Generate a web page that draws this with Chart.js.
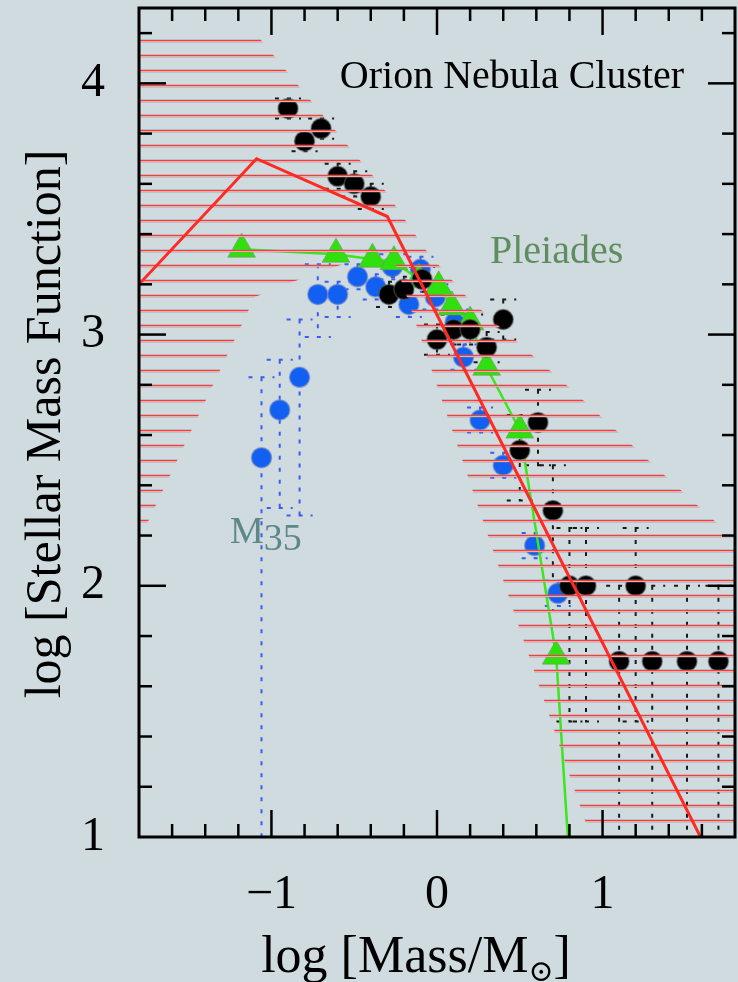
<!DOCTYPE html>
<html>
<head>
<meta charset="utf-8">
<title>Stellar Mass Function</title>
<script src="https://cdn.jsdelivr.net/npm/chart.js@4.4.1/dist/chart.umd.min.js"></script>
<style>
  html, body { margin: 0; padding: 0; background: #cfdbdf; }
  .graph-container { width: 738px; height: 982px; }
</style>
</head>
<body>
<div class="graph-container"><canvas id="myChart" width="738" height="982"></canvas></div>
<script>
// Orion Nebula Cluster (black dots) with error ranges
const massOnc = [-0.90, -0.80, -0.70, -0.60, -0.50, -0.40, -0.29, -0.20, -0.09, 0.00, 0.10, 0.20, 0.30, 0.40, 0.50, 0.61, 0.70, 0.80, 0.90, 1.20, 1.10, 1.30, 1.51, 1.70];
const smfOnc = [3.90, 3.77, 3.82, 3.63, 3.60, 3.55, 3.16, 3.18, 3.22, 2.98, 3.02, 3.02, 2.95, 3.06, 2.54, 2.65, 2.30, 2.00, 2.00, 2.00, 1.70, 1.70, 1.70, 1.70];
const oncErrUp = [0.04, 0.04, 0.04, 0.05, 0.05, 0.05, 0.05, 0.05, 0.05, 0.06, 0.06, 0.06, 0.06, 0.08, 0.14, 0.13, 0.18, 0.23, 0.23, 0.23, 0.30, 0.30, 0.30, 0.30];
const oncErrDown = [0.04, 0.04, 0.04, 0.05, 0.05, 0.05, 0.05, 0.05, 0.05, 0.06, 0.06, 0.06, 0.06, 0.08, 0.20, 0.17, 0.40, 0.54, 0.54, 0.54, 1.00, 1.00, 1.00, 1.00];

// M35 (blue dots)
const massM35 = [-1.06, -0.95, -0.83, -0.72, -0.60, -0.48, -0.37, -0.27, -0.17, -0.10, -0.01, 0.11, 0.16, 0.26, 0.40, 0.59, 0.73];
const smfM35 = [2.51, 2.70, 2.83, 3.16, 3.16, 3.23, 3.19, 3.27, 3.12, 3.26, 3.15, 3.05, 2.91, 2.66, 2.48, 2.16, 1.97];
const m35ErrUp = [0.32, 0.20, 0.23, 0.12, 0.05, 0.05, 0.05, 0.05, 0.05, 0.05, 0.05, 0.05, 0.05, 0.05, 0.05, 0.05, 0.05];
const m35ErrDown = [1.60, 0.39, 0.55, 0.17, 0.09, 0.05, 0.05, 0.05, 0.05, 0.05, 0.05, 0.05, 0.05, 0.05, 0.05, 0.05, 0.05];

// Pleiades (green triangles), last point only continues the line
const massPleiades = [-1.18, -0.61, -0.39, -0.26, -0.11, 0.01, 0.09, 0.20, 0.30, 0.50, 0.72, 0.80];
const smfPleiades = [3.34, 3.32, 3.30, 3.29, 3.22, 3.19, 3.11, 3.05, 2.87, 2.62, 1.72, 0.90];

// model mass function (red broken line)
const massModel = [-1.80, -1.09, -0.30, 1.63];
const smfModel = [3.20, 3.70, 3.47, 0.95];

// outline of the hatched uncertainty band
const bandMass = [-1.80, -1.09, -1.06, -0.31, -0.06, 0.18, 0.38, 0.78, 1.08, 1.39, 1.69, 1.80, 1.80, 0.92, -0.26, -0.57, -0.87, -1.10, -1.80];
const bandSmf = [4.20, 4.20, 4.17, 3.57, 3.33, 3.15, 3.03, 2.80, 2.62, 2.43, 2.25, 2.19, 1.015, 1.015, 3.30, 3.28, 3.21, 3.15, 2.18];

const xTickValues = [-1, 0, 1];
const xTickLabels = ["\u22121", "0", "1"];
const yTickValues = [1, 2, 3, 4];
const yTickLabels = ["1", "2", "3", "4"];

const serif = '"Liberation Serif", "DejaVu Serif", serif';

const toPoints = (xs, ys) => xs.map((x, i) => ({ x: x, y: ys[i] }));

// horizontal red hatch tile
const makeHatch = () => {
  const tile = document.createElement("canvas");
  tile.width = 8;
  tile.height = 15;
  const t = tile.getContext("2d");
  t.fillStyle = "rgba(140,140,140,0.35)";
  t.fillRect(0, 9, 8, 1);
  t.fillStyle = "#ff3a3a";
  t.fillRect(0, 10, 8, 1);
  t.fillStyle = "#f4a8a8";
  t.fillRect(0, 11, 8, 1);
  t.fillStyle = "rgba(140,140,140,0.3)";
  t.fillRect(0, 12, 8, 1);
  return document.createElement("canvas").getContext("2d").createPattern(tile, "repeat");
};

// keep the plot box exactly where the axes put it
const fixBox = (size) => (s) => {
  if (s.isHorizontal()) s.height = size;
  else s.width = size;
  s.paddingTop = 0;
  s.paddingBottom = 0;
  s.paddingLeft = 0;
  s.paddingRight = 0;
};

const errorBarPlugin = {
  id: "errorBars",
  beforeDatasetsDraw(chart) {
    const { ctx, chartArea: a, scales: { x, y } } = chart;
    ctx.save();
    ctx.beginPath();
    ctx.rect(a.left, a.top, a.right - a.left, a.bottom - a.top);
    ctx.clip();
    chart.data.datasets.forEach((ds) => {
      if (!ds.errorBars) return;
      ctx.strokeStyle = ds.errorBars.color;
      ctx.lineWidth = 2;
      ctx.setLineDash([4, 8]);
      ds.data.forEach((p, i) => {
        const px = x.getPixelForValue(p.x);
        const top = y.getPixelForValue(p.y + ds.errorBars.up[i]);
        const bottom = y.getPixelForValue(p.y - ds.errorBars.down[i]);
        ctx.beginPath();
        ctx.moveTo(px, top);
        ctx.lineTo(px, bottom);
        ctx.moveTo(px - 13, top);
        ctx.lineTo(px + 13, top);
        ctx.moveTo(px - 13, bottom);
        ctx.lineTo(px + 13, bottom);
        ctx.stroke();
      });
    });
    ctx.restore();
  },
};

// box with inward ticks on all four sides
const framePlugin = {
  id: "frame",
  afterDatasetsDraw(chart) {
    const { ctx, chartArea: a, scales: { x, y } } = chart;
    const seg = (x0, y0, x1, y1) => {
      ctx.beginPath();
      ctx.moveTo(x0, y0);
      ctx.lineTo(x1, y1);
      ctx.stroke();
    };
    ctx.save();
    ctx.strokeStyle = "#000";
    ctx.lineWidth = 2.5;
    for (let i = -8; i <= 8; i++) {
      const px = x.getPixelForValue(i * 0.2);
      const len = i % 5 === 0 ? 27 : 13;
      seg(px, a.bottom, px, a.bottom - len);
      seg(px, a.top, px, a.top + len);
    }
    for (let i = 6; i <= 21; i++) {
      const py = y.getPixelForValue(i * 0.2);
      const len = i % 5 === 0 ? 27 : 13;
      seg(a.left, py, a.left + len, py);
      seg(a.right, py, a.right - len, py);
    }
    ctx.lineWidth = 3;
    ctx.strokeRect(a.left, a.top, a.right - a.left, a.bottom - a.top);
    ctx.restore();
  },
};

const labelPlugin = {
  id: "labels",
  afterDraw(chart) {
    const ctx = chart.ctx;
    ctx.save();
    ctx.textBaseline = "alphabetic";

    ctx.fillStyle = "#000";
    ctx.font = `40px ${serif}`;
    ctx.textAlign = "center";
    ctx.fillText("Orion Nebula Cluster", 512, 88);

    ctx.textAlign = "left";
    ctx.fillStyle = "#5f8d5f";
    ctx.fillText("Pleiades", 490, 263);

    ctx.fillStyle = "#5e8888";
    ctx.font = `38px ${serif}`;
    ctx.fillText("M", 230, 543);
    const mWidth = ctx.measureText("M").width;
    ctx.fillText("35", 230 + mWidth, 550);

    // x axis title with subscript sun symbol
    ctx.fillStyle = "#000";
    const parts = [
      { text: "log [Mass/M", size: 52, dy: 0 },
      { text: "\u2299", size: 30, dy: 9 },
      { text: "]", size: 52, dy: 0 },
    ];
    let total = 0;
    parts.forEach((p) => {
      ctx.font = `${p.size}px ${serif}`;
      p.w = ctx.measureText(p.text).width;
      total += p.w;
    });
    let cx = 416 - total / 2;
    parts.forEach((p) => {
      ctx.font = `${p.size}px ${serif}`;
      ctx.fillText(p.text, cx, 972 + p.dy);
      cx += p.w;
    });

    // y axis title
    ctx.font = `50px ${serif}`;
    ctx.textAlign = "center";
    ctx.translate(60, 424);
    ctx.rotate(-Math.PI / 2);
    ctx.fillText("log [Stellar Mass Function]", 0, 0);
    ctx.restore();
  },
};

const ctx = document.getElementById("myChart");

new Chart(ctx, {
  type: "scatter",
  data: {
    datasets: [
      {
        label: "Model",
        data: toPoints(massModel, smfModel),
        showLine: true,
        borderColor: "#ff2a24",
        borderWidth: 3,
        pointRadius: 0,
        order: 1,
      },
      {
        label: "Band",
        data: toPoints(bandMass, bandSmf),
        showLine: true,
        borderWidth: 0,
        borderColor: "rgba(0,0,0,0)",
        backgroundColor: makeHatch(),
        fill: "shape",
        pointRadius: 0,
        order: 2,
      },
      {
        label: "Orion Nebula Cluster",
        data: toPoints(massOnc, smfOnc),
        pointRadius: 10,
        backgroundColor: "#000",
        borderColor: "rgba(90,90,90,0.55)",
        borderWidth: 1.5,
        errorBars: { up: oncErrUp, down: oncErrDown, color: "#1a1a1a" },
        order: 3,
      },
      {
        label: "Pleiades",
        data: toPoints(massPleiades, smfPleiades),
        showLine: true,
        borderColor: "#3be61e",
        borderWidth: 2.5,
        pointStyle: "triangle",
        pointRadius: (c) => (c.dataIndex === massPleiades.length - 1 ? 0 : 16),
        pointBackgroundColor: "#2fe00c",
        pointBorderColor: "rgba(110,150,100,0.6)",
        pointBorderWidth: 1,
        order: 4,
      },
      {
        label: "M35",
        data: toPoints(massM35, smfM35),
        pointRadius: 10,
        backgroundColor: "#1160f2",
        borderColor: "rgba(110,130,200,0.6)",
        borderWidth: 1.5,
        errorBars: { up: m35ErrUp, down: m35ErrDown, color: "#3a5cf0" },
        order: 5,
      },
    ],
  },
  options: {
    responsive: false,
    devicePixelRatio: 1,
    animation: false,
    events: [],
    layout: { autoPadding: false, padding: { top: 8, right: 3, left: 0, bottom: 0 } },
    plugins: {
      legend: { display: false },
      tooltip: { enabled: false },
    },
    scales: {
      x: {
        type: "linear",
        min: -1.8,
        max: 1.8,
        grid: { display: false },
        border: { display: false },
        afterBuildTicks: (s) => {
          s.ticks = xTickValues.map((v) => ({ value: v }));
        },
        afterFit: fixBox(145),
        ticks: {
          color: "#000",
          padding: 22,
          maxRotation: 0,
          font: { family: serif, size: 48 },
          callback: (v) => xTickLabels[xTickValues.indexOf(v)],
        },
      },
      y: {
        type: "linear",
        min: 1,
        max: 4.3,
        grid: { display: false },
        border: { display: false },
        afterBuildTicks: (s) => {
          s.ticks = yTickValues.map((v) => ({ value: v }));
        },
        afterFit: fixBox(139),
        ticks: {
          color: "#000",
          padding: 26,
          font: { family: serif, size: 48 },
          callback: (v) => yTickLabels[yTickValues.indexOf(v)],
        },
      },
    },
  },
  plugins: [errorBarPlugin, framePlugin, labelPlugin],
});
</script>
</body>
</html>
